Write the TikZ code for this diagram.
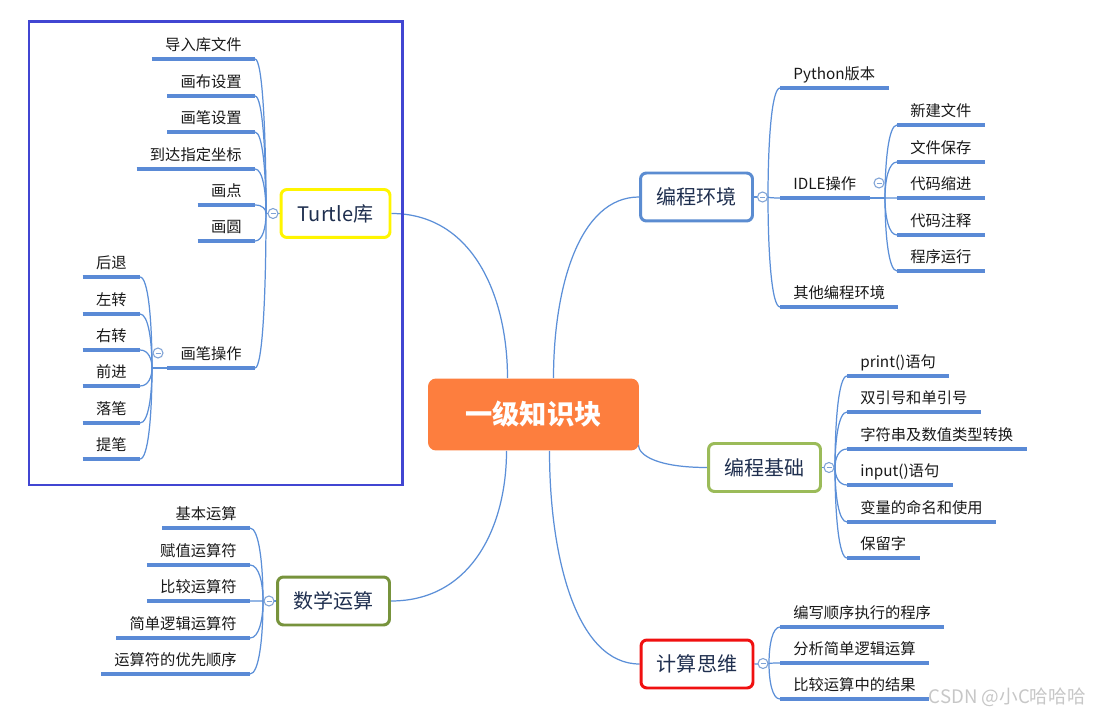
\documentclass[tikz,border=0pt]{standalone}
\usepackage{fontspec}
\setmainfont{Noto Sans CJK SC}
\usetikzlibrary{calc,backgrounds}

\definecolor{linkblue}{HTML}{5B8FD8}
\definecolor{lineblue}{HTML}{5A8AD6}
\definecolor{foldblue}{HTML}{7FA3D6}
\definecolor{framecol}{HTML}{4146D2}
\definecolor{corecol}{HTML}{FD7E3E}
\definecolor{topictext}{HTML}{1F2F4F}
\definecolor{envblue}{HTML}{5B8CD1}
\definecolor{basegreen}{HTML}{9BBB59}
\definecolor{matholive}{HTML}{77933C}
\definecolor{turtleyel}{HTML}{FFF500}
\definecolor{thinkred}{HTML}{F01010}

\begin{document}
\begin{tikzpicture}[x=0.02cm,y=-0.02cm,
  topic/.style={draw,line width=1.7pt,rounded corners=0.12cm,fill=white,minimum width=2.24cm,
    minimum height=0.96cm,text=topictext,font=\fontsize{11.4}{13}\selectfont},
  leaf/.style={inner xsep=0.26cm,inner ysep=0.085cm,text height=0.24cm,text depth=0.08cm,
    font=\fontsize{8.7}{10}\selectfont,text=black!90,
    append after command={(\tikzlastnode.south west) edge[draw=lineblue,line width=2pt] (\tikzlastnode.south east)}},
  leafL/.style={leaf,anchor=south east},
  leafR/.style={leaf,anchor=south west},
  fold/.style={circle,draw=foldblue,fill=white,line width=0.6pt,minimum size=0.2cm,inner sep=0,
    path picture={\draw[foldblue,line width=0.5pt] ([xshift=-0.05cm]path picture bounding box.center)
      -- ([xshift=0.05cm]path picture bounding box.center);}},
  link/.style={draw=linkblue,line width=0.7pt},
  twig/.style={link,to path={.. controls ($(\tikztostart)!0.7!(\tikztotarget|-\tikztostart)$)
    and ($(\tikztotarget)!0.5!(\tikztotarget|-\tikztostart)$) .. (\tikztotarget)}}
]
\useasboundingbox (0,0) rectangle (1097,715);

\draw[framecol,line width=1.7pt] (29,22) rectangle (402,485);

\node[rounded corners=0.16cm,fill=corecol,minimum width=4.22cm,minimum height=1.44cm,text=white,
  font=\fontsize{15.5}{18}\selectfont\bfseries] (core) at (533.5,414.5) {一级知识块};

\node[topic,draw=turtleyel,minimum width=2.18cm] (turtle) at (335.5,213.5) {Turtle库};
\node[topic,draw=envblue] (env) at (696.5,197) {编程环境};
\node[topic,draw=basegreen] (base) at (764.5,467.5) {编程基础};
\node[topic,draw=matholive] (math) at (333.5,601) {数学运算};
\node[topic,draw=thinkred] (think) at (697,664) {计算思维};

\coordinate (cNW) at ($(core.north)+(-26,0)$);
\coordinate (cNE) at ($(core.north)+(20,0)$);
\coordinate (cSW) at ($(core.south)+(-27,0)$);
\coordinate (cSE) at ($(core.south)+(16,0)$);
\coordinate (cE) at ($(core.east)+(-1,30)$);

\coordinate (tHub) at (266,213.5);
\coordinate (pHub) at (152,368);
\coordinate (eHub) at (768,197);
\coordinate (iHub) at (885,198);
\coordinate (bHub) at (835,467.5);
\coordinate (mHub) at (263,601);
\coordinate (kHub) at (769,663.5);

% Turtle
\node[leafL] (t1) at (255,59) {导入库文件};
\node[leafL] (t2) at (255,96) {画布设置};
\node[leafL] (t3) at (255,132) {画笔设置};
\node[leafL] (t4) at (255,169) {到达指定坐标};
\node[leafL] (t5) at (255,205) {画点};
\node[leafL] (t6) at (255,241) {画圆};
\node[leafL] (t7) at (255,368) {画笔操作};

\node[leafL] (p1) at (140,277) {后退};
\node[leafL] (p2) at (140,314) {左转};
\node[leafL] (p3) at (140,350) {右转};
\node[leafL] (p4) at (140,386) {前进};
\node[leafL] (p5) at (140,423) {落笔};
\node[leafL] (p6) at (140,459) {提笔};

% environment
\node[leafR] (e1) at (780,88) {Python版本};
\node[leafR] (e2) at (780,198) {IDLE操作};
\node[leafR] (e3) at (780,307) {其他编程环境};

\node[leafR] (i1) at (897,125) {新建文件};
\node[leafR] (i2) at (897,162) {文件保存};
\node[leafR] (i3) at (897,198) {代码缩进};
\node[leafR] (i4) at (897,235) {代码注释};
\node[leafR] (i5) at (897,271) {程序运行};

% basics
\node[leafR] (b1) at (847,376) {print()语句};
\node[leafR] (b2) at (847,412) {双引号和单引号};
\node[leafR] (b3) at (847,449) {字符串及数值类型转换};
\node[leafR] (b4) at (847,485) {input()语句};
\node[leafR] (b5) at (847,522) {变量的命名和使用};
\node[leafR] (b6) at (847,558) {保留字};

% math
\node[leafL] (m1) at (250,528) {基本运算};
\node[leafL] (m2) at (250,565) {赋值运算符};
\node[leafL] (m3) at (250,601) {比较运算符};
\node[leafL] (m4) at (250,638) {简单逻辑运算符};
\node[leafL] (m5) at (250,674) {运算符的优先顺序};

% thinking
\node[leafR] (k1) at (780,627) {编写顺序执行的程序};
\node[leafR] (k2) at (780,663) {分析简单逻辑运算};
\node[leafR] (k3) at (780,699) {比较运算中的结果};

\begin{scope}[on background layer]
\fill[white] (0,0) rectangle (1097,715);
\draw[twig] (turtle.east) to (cNW);
\draw[twig] (env.west) to (cNE);
\draw[twig] (base.west) to (cE);
\draw[twig] (math.east) to (cSW);
\draw[twig] (think.west) to (cSE);

\draw[link] (turtle.west) -- (tHub);
\draw[link] (t7.south west) -- (pHub);
\draw[link] (env.east) -- (eHub);
\draw[link] (e2.south east) -- (iHub);
\draw[link] (base.east) -- (bHub);
\draw[link] (math.west) -- (mHub);
\draw[link] (think.east) -- (kHub);

\foreach \i in {1,...,7} \draw[twig] (t\i.south east) to (tHub);
\foreach \i in {1,...,6} \draw[twig] (p\i.south east) to (pHub);
\foreach \i in {1,2,3} \draw[twig] (e\i.south west) to (eHub);
\foreach \i in {1,...,5} \draw[twig] (i\i.south west) to (iHub);
\foreach \i in {1,...,6} \draw[twig] (b\i.south west) to (bHub);
\foreach \i in {1,...,5} \draw[twig] (m\i.south east) to (mHub);
\foreach \i in {1,2,3} \draw[twig] (k\i.south west) to (kHub);
\end{scope}

\node[fold] (tFold) at (273,213.5) {};
\node[fold] (pFold) at (158,353) {};
\node[fold] (eFold) at (762.5,197) {};
\node[fold] (iFold) at (879,183) {};
\node[fold] (bFold) at (829,467.5) {};
\node[fold] (mFold) at (269,601) {};
\node[fold] (kFold) at (763,663.5) {};

\node[anchor=east,text=black!22,font=\fontsize{10.6}{12}\selectfont] (mark) at (1092,697) {CSDN @小C哈哈哈};
\end{tikzpicture}
\end{document}
